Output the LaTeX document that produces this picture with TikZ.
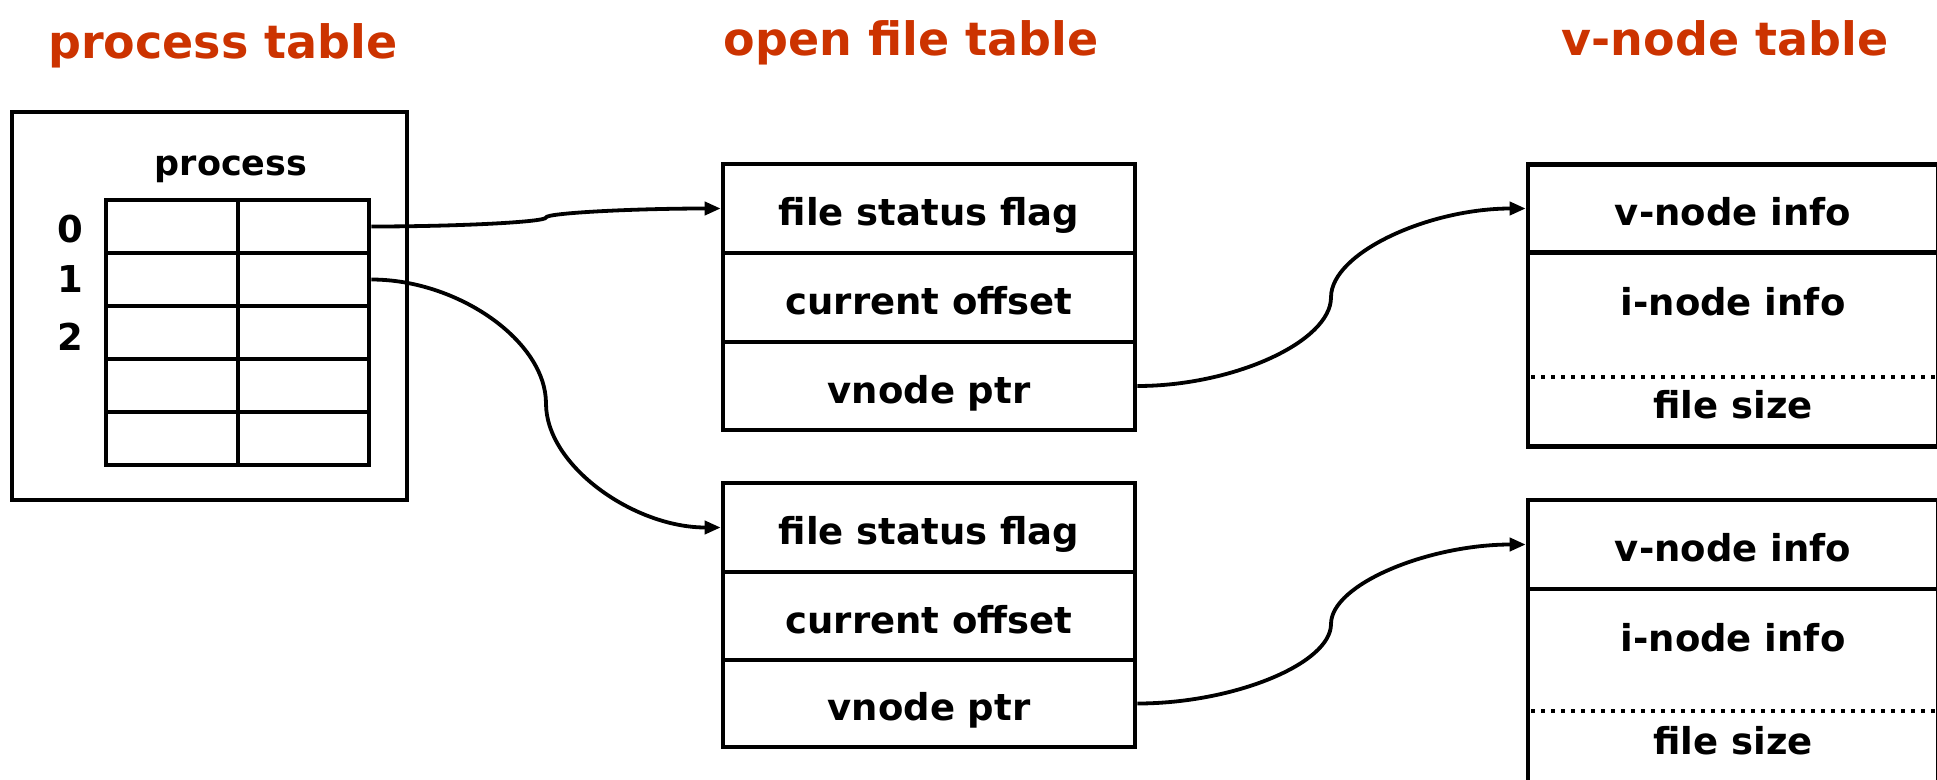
\documentclass[tikz,border=0pt]{standalone}
\usepackage{fontspec}
\setmainfont{DejaVu Sans}
\usetikzlibrary{arrows.meta}
\definecolor{titlered}{RGB}{204,51,0}
\begin{document}
\begin{tikzpicture}[x=1pt,y=-1pt,
  frame/.style={draw, line width=4.6pt, inner sep=0pt},
  cell/.style={draw, line width=4.6pt, inner sep=0pt, font=\bfseries\fontsize{37}{40}\selectfont, text height=34pt, text depth=0pt},
  lbl/.style={inner sep=0pt, anchor=base, font=\bfseries\fontsize{37}{40}\selectfont},
  ttl/.style={inner sep=0pt, anchor=base, text=titlered, font=\bfseries\fontsize{46}{50}\selectfont},
  conn/.style={line width=3.8pt, -{Triangle[length=16pt,width=13pt]}},
  dotline/.style={line width=4pt, dash pattern=on 4pt off 6pt}
]
\useasboundingbox (0,0) rectangle (1937,779);

% titles
\node[ttl] (tproc) at (223,58) {process table};
\node[ttl] (topen) at (911,55) {open file table};
\node[ttl] (tvnode) at (1725,55) {v-node table};

% process table
\node[frame, minimum width=395, minimum height=388] (proc) at (209.5,306) {};
\node[lbl, font=\bfseries\fontsize{35}{38}\selectfont] (plabel) at (231,175) {process};
\foreach \r/\yc in {0/226.5,1/279.5,2/332.5,3/385.5,4/438.5}{
  \node[frame, minimum width=132, minimum height=53] (p\r-a) at (172,\yc) {};
  \node[frame, minimum width=131, minimum height=53] (p\r-b) at (303.5,\yc) {};
}
\node[lbl, anchor=center] (n0) at (70,229) {0};
\node[lbl, anchor=center] (n1) at (70,279) {1};
\node[lbl, anchor=center] (n2) at (70,337) {2};

% open file table
\node[cell, minimum width=412, minimum height=89] (f1a) at (929,208.5) {file status flag};
\node[cell, minimum width=412, minimum height=89] (f1b) at (929,297.5) {current offset};
\node[cell, minimum width=412, minimum height=88] (f1c) at (929,386) {vnode ptr};
\node[cell, minimum width=412, minimum height=89] (f2a) at (929,527.5) {file status flag};
\node[cell, minimum width=412, minimum height=88] (f2b) at (929,616) {current offset};
\node[cell, minimum width=412, minimum height=87] (f2c) at (929,703.5) {vnode ptr};

% v-node table
\node[cell, minimum width=410, minimum height=88] (v1a) at (1733,208.5) {v-node info};
\node[frame, minimum width=410, minimum height=194] (v1b) at (1733,349.5) {};
\node[lbl] (v1i) at (1733,315) {i-node info};
\node[lbl] (v1s) at (1733,418) {file size};
\draw[dotline] (1531,377) -- (1937,377);

\node[cell, minimum width=410, minimum height=89] (v2a) at (1733,544.5) {v-node info};
\node[frame, minimum width=410, minimum height=241] (v2b) at (1733,709.5) {};
\node[lbl] (v2i) at (1733,651) {i-node info};
\node[lbl] (v2s) at (1733,754) {file size};
\draw[dotline] (1531,711) -- (1937,711);

% connectors
\draw[conn] (p0-b.east) .. controls (458.5,226.5) and (546,222) .. (546,217.5)
  .. controls (546,213) and (633.5,208.5) .. (f1a.west);
\draw[conn] (p1-b.east) .. controls (458.5,279.5) and (546,341.5) .. (546,403.5)
  .. controls (546,465.5) and (633.5,527.5) .. (f2a.west);
\draw[conn] (f1c.east) .. controls (1233.5,386) and (1331,341.6) .. (1331,297.25)
  .. controls (1331,252.9) and (1428.5,208.5) .. (v1a.west);
\draw[conn] (f2c.east) .. controls (1233.5,703.5) and (1331,663.75) .. (1331,624)
  .. controls (1331,584.25) and (1428.5,544.5) .. (v2a.west);
\end{tikzpicture}
\end{document}
